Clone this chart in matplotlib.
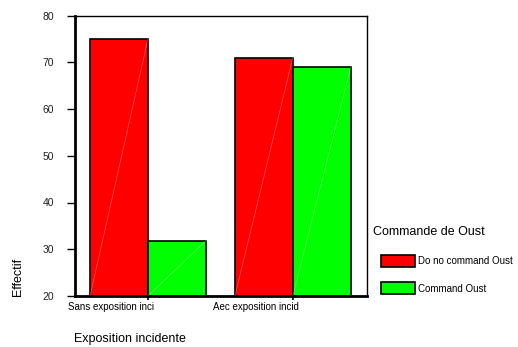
import numpy as np
import matplotlib.pyplot as plt
import matplotlib.transforms as mtransforms

# data
categories = ["Sans exposition inci", "Aec exposition incid"]
series = ["Do no command Oust", "Command Oust"]
no_command = [75, 71]
command = [31.8, 69]
colors = ["#ff0000", "#00ff00"]

plt.rcParams['font.family'] = ['Liberation Sans', 'DejaVu Sans']

fig = plt.figure(figsize=(5.18, 3.47), dpi=100)
ax = fig.add_axes([75/518, 1-296/347, (367-75)/518, (296-15.5)/347])

width = 1.0
gap = 0.5
x0 = np.arange(len(categories)) * (2*width + gap)
bars = []
for k, vals in enumerate([no_command, command]):
    b = ax.bar(x0 + k*width, np.array(vals) - 20, bottom=20, width=width,
               align='edge', color=colors[k], edgecolor='black', linewidth=1.2,
               label=series[k], zorder=2)
    bars.append(b)

# faint diagonal line seen inside each bar
for b in bars:
    for p in b.patches:
        x, y = p.get_x(), p.get_y()
        ax.plot([x, x + p.get_width()], [y, y + p.get_height()], color='white',
                lw=0.5, alpha=0.35, zorder=3)

ax.set_ylim(20, 80)
ax.set_xlim(-0.26, 4.78)
ax.set_yticks(np.arange(20, 81, 10))
ax.tick_params(axis='y', labelsize=7.5, length=6, width=1, pad=9, labelcolor='#222222')
ax.set_xticks(x0 + width)
ax.set_xticklabels([])
ax.tick_params(axis='x', length=3, width=1.2)

offset = mtransforms.ScaledTranslation(6/100, 0, fig.dpi_scale_trans)
for xi, lab in zip(x0 + width, categories):
    ax.text(xi, -0.02, lab, transform=ax.get_xaxis_transform() + offset,
            ha='right', va='top', fontsize=7)

ax.spines['left'].set_linewidth(2)
ax.spines['bottom'].set_linewidth(2)
ax.spines['top'].set_linewidth(1)
ax.spines['right'].set_linewidth(1)

fig.text(130/518, 1-339/347, "Exposition incidente", fontsize=9, ha='center', va='center')
fig.text(18/518, 1-277/347, "Effectif", fontsize=9, rotation=90, ha='center', va='center')

fig.text(373/518, 1-232/347, "Commande de Oust", fontsize=9, ha='left', va='center')
ax.legend(loc='upper left', bbox_to_anchor=(381/518, 1-255/347),
          bbox_transform=fig.transFigure, frameon=False, fontsize=7,
          borderpad=0, borderaxespad=0, handlelength=3.5, handleheight=1.5,
          handletextpad=0.3, labelspacing=1.6)

fig.savefig("out.png", dpi=100)
